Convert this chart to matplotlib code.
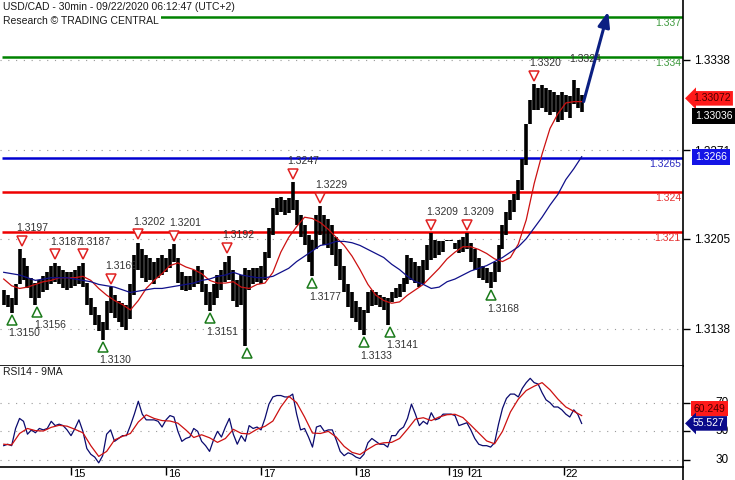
import matplotlib
matplotlib.use('Agg')
import matplotlib.pyplot as plt
from matplotlib import transforms
from matplotlib.lines import Line2D

plt.rcParams['font.family'] = ['Liberation Sans', 'DejaVu Sans']

# hours counted from Mon 14 Sep 00:00 (UTC+2), weekend squeezed out
bar_hours = list(range(7, 154))
bar_highs = [
    1.3167, 1.3163, 1.3161, 1.3171, 1.3197, 1.3191, 1.3185, 1.3176, 1.3172, 1.3174,
    1.3177, 1.3180, 1.3185, 1.3187, 1.3185, 1.3182, 1.3180, 1.3180, 1.3182, 1.3185,
    1.3187, 1.3172, 1.3161, 1.3154, 1.3148, 1.3143, 1.3159, 1.3169, 1.3163, 1.3159,
    1.3157, 1.3156, 1.3171, 1.3193, 1.3202, 1.3197, 1.3193, 1.3191, 1.3188, 1.3191,
    1.3193, 1.3191, 1.3197, 1.3201, 1.3191, 1.3180, 1.3177, 1.3177, 1.3182, 1.3185,
    1.3182, 1.3171, 1.3165, 1.3171, 1.3178, 1.3182, 1.3188, 1.3192, 1.3182, 1.3174,
    1.3178, 1.3183, 1.3182, 1.3183, 1.3183, 1.3185, 1.3195, 1.3213, 1.3228, 1.3235,
    1.3236, 1.3234, 1.3235, 1.3247, 1.3234, 1.3223, 1.3215, 1.3208, 1.3204, 1.3223,
    1.3229, 1.3223, 1.3220, 1.3215, 1.3206, 1.3197, 1.3185, 1.3171, 1.3165, 1.3159,
    1.3154, 1.3152, 1.3165, 1.3167, 1.3165, 1.3163, 1.3162, 1.3161, 1.3165, 1.3168,
    1.3171, 1.3176, 1.3193, 1.3191, 1.3188, 1.3185, 1.3189, 1.3200, 1.3209, 1.3204,
    1.3203, 1.3203, 1.3204, 1.3204, 1.3202, 1.3204, 1.3206, 1.3209, 1.3202, 1.3197,
    1.3191, 1.3185, 1.3183, 1.3180, 1.3188, 1.3200, 1.3215, 1.3225, 1.3234, 1.3238,
    1.3249, 1.3264, 1.3290, 1.3308, 1.3320, 1.3317, 1.3319, 1.3317, 1.3316, 1.3314,
    1.3312, 1.3314, 1.3312, 1.3311, 1.3323, 1.3317, 1.3312,
]
bar_lows = [
    1.3156, 1.3154, 1.3150, 1.3156, 1.3171, 1.3174, 1.3168, 1.3161, 1.3156, 1.3161,
    1.3165, 1.3167, 1.3171, 1.3173, 1.3171, 1.3168, 1.3167, 1.3168, 1.3170, 1.3171,
    1.3169, 1.3156, 1.3148, 1.3141, 1.3136, 1.3130, 1.3137, 1.3150, 1.3146, 1.3143,
    1.3139, 1.3137, 1.3145, 1.3163, 1.3182, 1.3176, 1.3173, 1.3174, 1.3171, 1.3176,
    1.3178, 1.3180, 1.3183, 1.3188, 1.3172, 1.3167, 1.3166, 1.3167, 1.3169, 1.3171,
    1.3165, 1.3156, 1.3151, 1.3156, 1.3161, 1.3167, 1.3173, 1.3174, 1.3159, 1.3154,
    1.3156, 1.3125, 1.3167, 1.3171, 1.3173, 1.3171, 1.3174, 1.3191, 1.3208, 1.3223,
    1.3225, 1.3223, 1.3224, 1.3226, 1.3215, 1.3206, 1.3200, 1.3188, 1.3177, 1.3197,
    1.3208, 1.3200, 1.3198, 1.3193, 1.3185, 1.3174, 1.3165, 1.3154, 1.3146, 1.3143,
    1.3137, 1.3133, 1.3150, 1.3155, 1.3156, 1.3154, 1.3152, 1.3141, 1.3158, 1.3161,
    1.3162, 1.3165, 1.3171, 1.3174, 1.3172, 1.3169, 1.3171, 1.3182, 1.3189, 1.3191,
    1.3193, 1.3195, 1.3203, 1.3203, 1.3197, 1.3194, 1.3195, 1.3197, 1.3188, 1.3182,
    1.3176, 1.3174, 1.3172, 1.3168, 1.3173, 1.3180, 1.3197, 1.3208, 1.3219, 1.3225,
    1.3234, 1.3241, 1.3260, 1.3290, 1.3301, 1.3301, 1.3302, 1.3299, 1.3297, 1.3299,
    1.3292, 1.3293, 1.3299, 1.3295, 1.3305, 1.3302, 1.3299,
]
rsi = [
    40, 41, 40, 52, 59, 57, 48, 51, 49, 52,
    51, 52, 57, 54, 55, 54, 51, 47, 52, 58,
    50, 38, 34, 32, 28, 33, 48, 51, 43, 45,
    47, 47, 54, 62, 71, 62, 58, 58, 58, 57,
    53, 58, 61, 60, 50, 43, 45, 46, 52, 50,
    43, 40, 36, 44, 50, 46, 53, 59, 48, 41,
    47, 43, 54, 52, 53, 51, 59, 69, 74, 75,
    75, 74, 74, 76, 62, 51, 52, 46, 39, 53,
    54, 50, 51, 51, 44, 36, 33, 35, 34, 32,
    31, 34, 42, 45, 43, 41, 41, 39, 47, 47,
    51, 53, 59, 69, 62, 54, 57, 55, 63, 58,
    59, 62, 62, 62, 61, 54, 55, 56, 51, 45,
    41, 40, 40, 39, 42, 55, 66, 73, 76, 76,
    74, 80, 84, 87, 84, 83, 77, 72, 70, 67,
    67, 65, 62, 60, 65, 62, 55.5,
]

# moving averages read every second hour
ma_hours = list(range(7, 154, 2))
ma_red = [
    1.3175, 1.3170, 1.3168, 1.3169, 1.3171, 1.3173, 1.3174, 1.3176, 1.3176, 1.3176,
    1.3177, 1.3174, 1.3168, 1.3163, 1.3159, 1.3156, 1.3152, 1.3159, 1.3168, 1.3174,
    1.3179, 1.3185, 1.3187, 1.3184, 1.3182, 1.3179, 1.3174, 1.3172, 1.3172, 1.3173,
    1.3169, 1.3168, 1.3171, 1.3172, 1.3180, 1.3195, 1.3206, 1.3214, 1.3221, 1.3220,
    1.3217, 1.3212, 1.3206, 1.3200, 1.3192, 1.3182, 1.3171, 1.3163, 1.3159, 1.3157,
    1.3158, 1.3163, 1.3167, 1.3171, 1.3177, 1.3183, 1.3190, 1.3195, 1.3199, 1.3199,
    1.3197, 1.3194, 1.3190, 1.3188, 1.3191, 1.3201, 1.3219, 1.3246, 1.3268, 1.3287,
    1.3298, 1.3306, 1.3307, 1.3307,
]
ma_blue = [
    1.3180, 1.3179, 1.3178, 1.3176, 1.3174, 1.3175, 1.3176, 1.3176, 1.3176, 1.3175,
    1.3174, 1.3173, 1.3171, 1.3170, 1.3169, 1.3167, 1.3165, 1.3166, 1.3167, 1.3168,
    1.3168, 1.3169, 1.3170, 1.3171, 1.3172, 1.3174, 1.3175, 1.3177, 1.3178, 1.3180,
    1.3178, 1.3177, 1.3176, 1.3176, 1.3177, 1.3180, 1.3183, 1.3188, 1.3192, 1.3196,
    1.3200, 1.3201, 1.3203, 1.3203, 1.3202, 1.3200, 1.3197, 1.3194, 1.3191, 1.3186,
    1.3182, 1.3177, 1.3173, 1.3171, 1.3168, 1.3169, 1.3173, 1.3175, 1.3178, 1.3181,
    1.3183, 1.3185, 1.3188, 1.3191, 1.3195, 1.3199, 1.3205, 1.3213, 1.3221, 1.3230,
    1.3238, 1.3249, 1.3257, 1.3266,
]
rsi_ma = [
    41, 40.5, 48.5, 52, 50.5, 50.2, 52.8, 54.2, 53.6, 51.4,
    49, 40, 32.5, 36, 44, 46.5, 48.5, 56.5, 61.5, 59,
    57.5, 57.2, 55.7, 51, 45.7, 47.6, 45.5, 42.3, 45, 51.4,
    48.6, 48.2, 51.5, 53.5, 57.2, 67, 74.5, 70, 60, 48.8,
    48.5, 50, 46, 39.5, 35.3, 33.8, 37.5, 40.8, 42, 42.3,
    45, 51.5, 58.5, 59.5, 57.5, 60, 61.6, 61.9, 59.6, 54.3,
    48.8, 43.3, 41.3, 50, 63.5, 72.5, 78.5, 81.5, 84, 79,
    72.5, 67, 64, 61,
]

# pivots
hi_hours = [11.5, 20, 27, 34, 41, 50, 63.5, 80, 87, 115, 124, 141]
hi_prices = [1.3197, 1.3187, 1.3187, 1.3169, 1.3202, 1.3201, 1.3192, 1.3247, 1.3229, 1.3209, 1.3209, 1.3320]
lo_hours = [9, 15.5, 32, 59, 68.5, 85, 98, 104.5, 130]
lo_prices = [1.3150, 1.3156, 1.3130, 1.3151, 1.3125, 1.3177, 1.3133, 1.3141, 1.3168]
lo_labels = ['1.3150', '1.3156', '1.3130', '1.3151', '', '1.3177', '1.3133', '1.3141', '1.3168']
last_high_hour, last_high_label = 151, '1.3324'

# key levels
levels = [1.337, 1.334, 1.3265, 1.324, 1.321]
level_labels = ['1.337', '1.334', '1.3265', '1.324', '1.321']
level_colors = ['#008200', '#008200', '#0000d0', '#ee0000', '#ee0000']
level_text_colors = ['#3f9a3f', '#3f9a3f', '#2a2ac0', '#e53030', '#e53030']

forecast_hours = [153.5, 159.7]
forecast_prices = [1.3307, 1.3374]

last_close = 1.33036
red_ma_last = 1.33072
blue_ma_last = 1.3266
rsi_last = 55.527
rsi_ma_last = 60.249

price_ticks = [1.3138, 1.3205, 1.3271, 1.3338]
rsi_ticks = [30, 50, 70]
day_ticks = [24, 48, 72, 96, 119.5, 124.5, 148.5]
day_labels = ['15', '16', '17', '18', '19', '21', '22']

fig = plt.figure(figsize=(7.35, 4.8), dpi=100)
ax = fig.add_axes([0, 0.2375, 0.92925, 0.7625])
ax2 = fig.add_axes([0, 0.02708, 0.92925, 0.2104], sharex=ax)

ax.set_xlim(6.06, 178.6)
ax.set_ylim(1.31103, 1.33826)
ax2.set_ylim(25.1, 95.6)

for a in (ax, ax2):
    a.spines['top'].set_visible(False)
    a.spines['left'].set_visible(False)
    a.spines['right'].set_linewidth(1.2)
    a.spines['bottom'].set_linewidth(1.2)
    a.grid(axis='y', linestyle=(0, (1, 6)), color='#9a9a9a', linewidth=0.8)
    a.yaxis.tick_right()

def px(a, x=0, y=0, base=None):
    return transforms.offset_copy(base if base is not None else a.transData,
                                  fig=fig, x=x, y=y, units='dots')

# price panel
ax.vlines(bar_hours, bar_lows, bar_highs, color='black', linewidth=2.6, zorder=3)
ax.plot(ma_hours, ma_red, color='#cc1111', linewidth=0.9, zorder=4)
ax.plot(ma_hours, ma_blue, color='#10108a', linewidth=0.9, zorder=4)

right_tr = transforms.blended_transform_factory(ax.transAxes, ax.transData)
for lvl, lab, col, tcol in zip(levels, level_labels, level_colors, level_text_colors):
    ax.hlines(lvl, bar_hours[0] - 0.5, ax.get_xlim()[1], color=col, linewidth=1.8, zorder=2)
    ax.text(0.997, lvl, lab, transform=px(ax, y=-6, base=right_tr), ha='right',
            va='center', fontsize=7.5, color=tcol)

ax.plot(hi_hours, hi_prices, linestyle='none', marker='v', markersize=7, mfc='white',
        mec='#e02020', mew=1.1, transform=px(ax, y=8.5), zorder=5)
for h, p in zip(hi_hours, hi_prices):
    ax.text(h, p, f'{p:.4f}', transform=px(ax, x=-5, y=21), ha='left', va='center',
            fontsize=7.5, color='#333333')
ax.text(last_high_hour, bar_highs[bar_hours.index(last_high_hour)], last_high_label,
        transform=px(ax, x=-5, y=21), ha='left', va='center', fontsize=7.5, color='#333333')

ax.plot(lo_hours, lo_prices, linestyle='none', marker='^', markersize=7, mfc='white',
        mec='#1a7a1a', mew=1.1, transform=px(ax, y=-7), zorder=5)
for h, p, lab in zip(lo_hours, lo_prices, lo_labels):
    ax.text(h, p, lab, transform=px(ax, x=-3.5, y=-20.5), ha='left', va='center',
            fontsize=7.5, color='#333333')

ax.annotate('', xy=(forecast_hours[1], forecast_prices[1]),
            xytext=(forecast_hours[0], forecast_prices[0]),
            arrowprops=dict(arrowstyle='-|>,head_length=0.9,head_width=0.35',
                            color='#0b1f82', lw=2.2, shrinkA=0, shrinkB=0), zorder=6)

ax.set_yticks(price_ticks)
ax.set_yticklabels([f'{t:.4f}' for t in price_ticks])
ax.tick_params(axis='y', direction='out', length=5, width=1, pad=3, labelsize=8.5)
ax.tick_params(axis='x', bottom=False, labelbottom=False)

# value boxes on the price scale
ax.text(1.0, red_ma_last, f'{red_ma_last:.5f}', transform=px(ax, x=10, y=3, base=right_tr),
        ha='left', va='center', fontsize=7.5, color='#4a0000', zorder=10, clip_on=False,
        bbox=dict(boxstyle='larrow,pad=0.22', fc='#ff1a1a', ec='none'))
ax.text(1.0, last_close, f'{last_close:.5f}', transform=px(ax, x=12, y=-10, base=right_tr),
        ha='left', va='center', fontsize=7.5, color='white', zorder=10, clip_on=False,
        bbox=dict(boxstyle='square,pad=0.3', fc='black', ec='none'))
ax.text(1.0, blue_ma_last, f'{blue_ma_last:.4f}', transform=px(ax, x=12, base=right_tr),
        ha='left', va='center', fontsize=7.5, color='white', zorder=10, clip_on=False,
        bbox=dict(boxstyle='square,pad=0.3', fc='#1414e6', ec='none'))

fig.text(3 / 735, 1 - 7.5 / 480, 'USD/CAD - 30min - 09/22/2020 06:12:47 (UTC+2)',
         ha='left', va='center', fontsize=7.5, color='#1a1a1a',
         bbox=dict(fc='white', ec='none', pad=1))
fig.text(3 / 735, 1 - 20.5 / 480, 'Research \u00a9 TRADING CENTRAL',
         ha='left', va='center', fontsize=7.5, color='#1a1a1a',
         bbox=dict(fc='white', ec='none', pad=1.5))

# RSI panel
ax2.plot(bar_hours, rsi, color='#0a0a6e', linewidth=0.9)
ax2.plot(ma_hours, rsi_ma, color='#cc1111', linewidth=0.9)
ax2.text(0.004, 1.0, 'RSI14 - 9MA', transform=px(ax2, y=-6, base=ax2.transAxes),
         ha='left', va='center', fontsize=7.5, color='#1a1a1a')
ax2.set_yticks(rsi_ticks)
ax2.tick_params(axis='y', direction='out', length=5, width=1, labelright=False)
rsi_tr = transforms.blended_transform_factory(ax2.transAxes, ax2.transData)
for t in rsi_ticks:
    ax2.text(1.0, t, str(t), transform=px(ax2, x=46, base=rsi_tr), ha='right',
             va='center', fontsize=8.5, color='black', clip_on=False)
ax2.text(1.0, rsi_ma_last, f'{rsi_ma_last:.3f}', transform=px(ax2, x=11, y=8, base=rsi_tr),
         ha='left', va='center', fontsize=7.5, color='#4a0000', zorder=10, clip_on=False,
         bbox=dict(boxstyle='square,pad=0.25', fc='#ff1a1a', ec='none'))
ax2.text(1.0, rsi_last, f'{rsi_last:.3f}', transform=px(ax2, x=10, base=rsi_tr),
         ha='left', va='center', fontsize=7.5, color='white', zorder=10, clip_on=False,
         bbox=dict(boxstyle='larrow,pad=0.22', fc='#0a0a8a', ec='none'))

ax2.set_xticks(day_ticks)
ax2.tick_params(axis='x', direction='out', length=6, width=1, labelbottom=False)
day_tr = transforms.blended_transform_factory(ax2.transData, ax2.transAxes)
for t, lab in zip(day_ticks, day_labels):
    ax2.text(t, 0, lab, transform=px(ax2, x=2, y=-2, base=day_tr), ha='left', va='top',
             fontsize=8, color='black', clip_on=False)

fig.add_artist(Line2D([683 / 735, 683 / 735], [0, 13 / 480], color='black', linewidth=1.2))

fig.savefig('out.png', dpi=100)
